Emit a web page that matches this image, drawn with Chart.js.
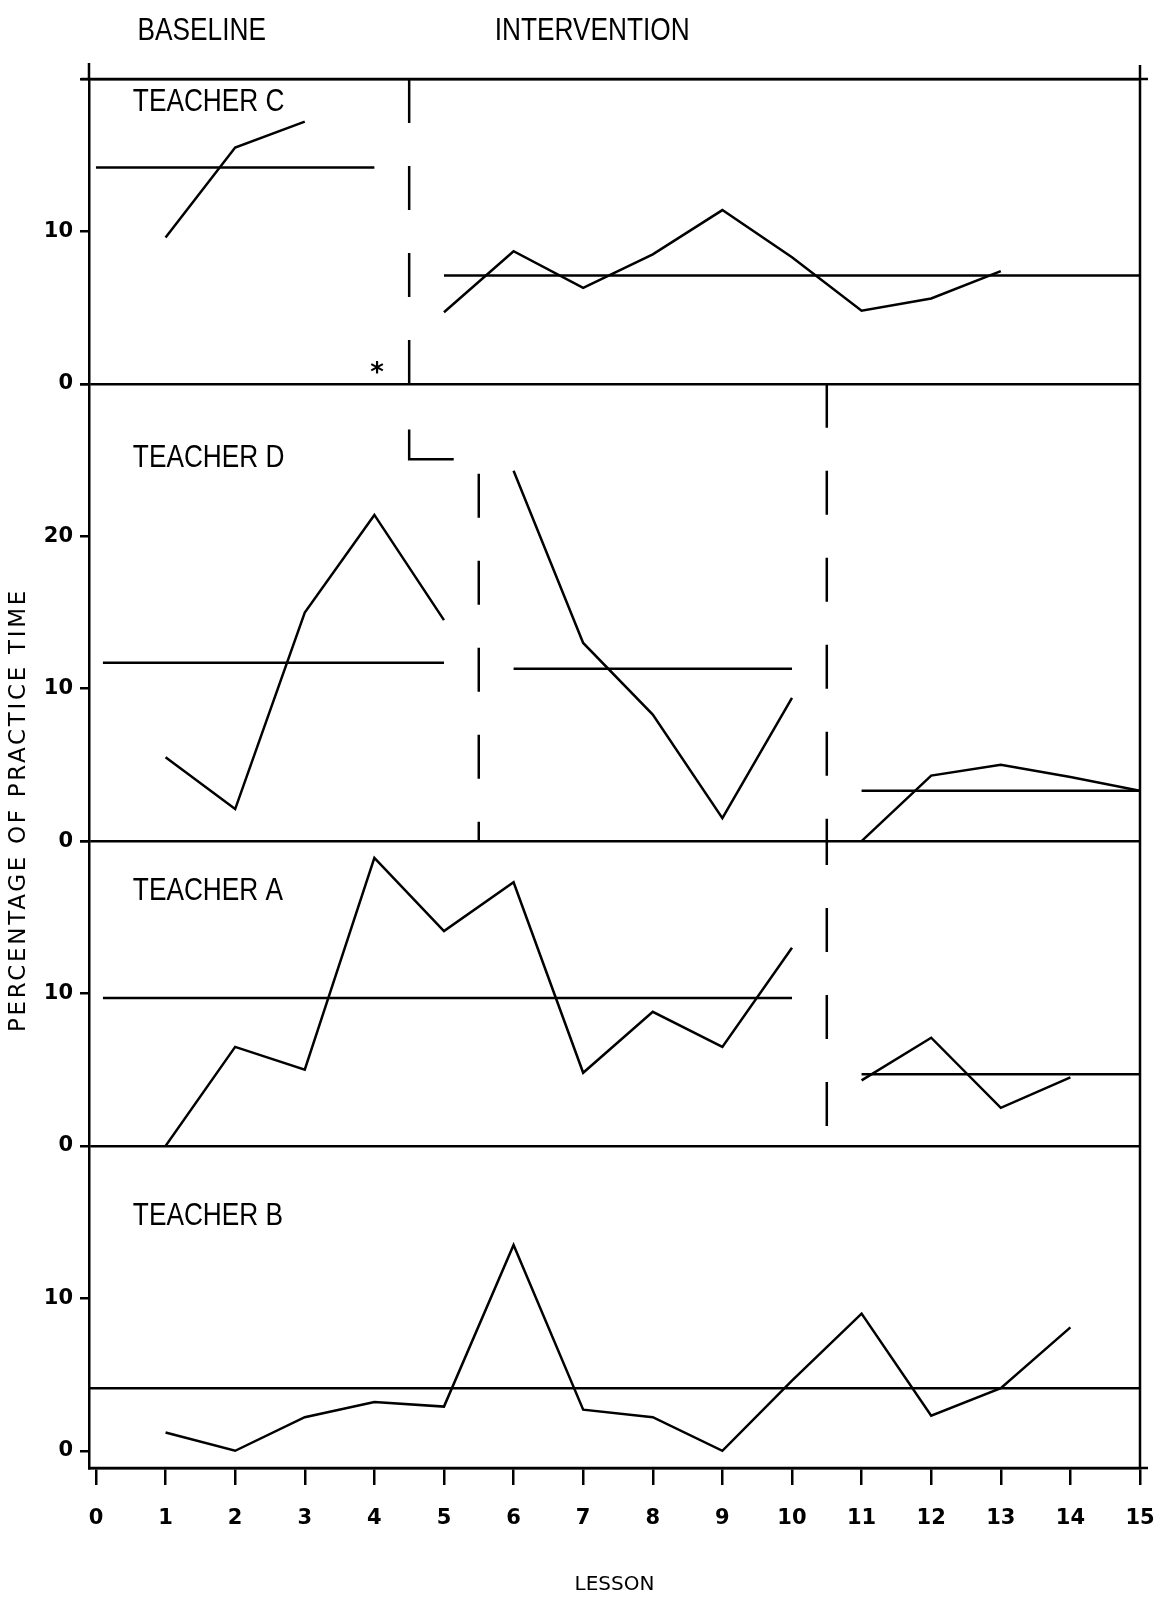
<!DOCTYPE html>
<html>
<head>
<meta charset="utf-8">
<script src="https://cdn.jsdelivr.net/npm/chart.js@4.4.1/dist/chart.umd.min.js"></script>
<style>
  html, body { margin: 0; padding: 0; background: #fff; }
  #wrap { position: relative; width: 1162px; height: 1597px; }
</style>
</head>
<body>
<div id="wrap"><canvas id="chart" width="1162" height="1597"></canvas></div>
<script>
// lessons on the x axis
const lessonTicks = [0, 1, 2, 3, 4, 5, 6, 7, 8, 9, 10, 11, 12, 13, 14, 15];

// Teacher C (top panel)
const cBaseLessons = [1, 2, 3];
const cBaseValues = [9.6, 15.5, 17.2];
const cIntLessons = [5, 6, 7, 8, 9, 10, 11, 12, 13];
const cIntValues = [4.7, 8.7, 6.3, 8.5, 11.4, 8.3, 4.8, 5.6, 7.4];
const cMeans = [14.2, 7.1];
const cMeanSpans = [[0, 4], [5, 15]];

// Teacher D
const dBaseLessons = [1, 2, 3, 4, 5];
const dBaseValues = [5.5, 2.1, 15.0, 21.4, 14.5];
const dInt1Lessons = [6, 7, 8, 9, 10];
const dInt1Values = [24.3, 13.0, 8.3, 1.5, 9.4];
const dInt2Lessons = [11, 12, 13, 14, 15];
const dInt2Values = [0, 4.3, 5.0, 4.2, 3.3];
const dMeans = [11.7, 11.3, 3.3];
const dMeanSpans = [[0.1, 5], [6, 10], [11, 15]];

// Teacher A
const aBaseLessons = [1, 2, 3, 4, 5, 6, 7, 8, 9, 10];
const aBaseValues = [0, 6.5, 5.0, 18.9, 14.1, 17.3, 4.8, 8.8, 6.5, 13.0];
const aIntLessons = [11, 12, 13, 14];
const aIntValues = [4.3, 7.1, 2.5, 4.5];
const aMeans = [9.7, 4.7];
const aMeanSpans = [[0.1, 10], [11, 15]];

// Teacher B (never reached intervention)
const bLessons = [1, 2, 3, 4, 5, 6, 7, 8, 9, 10, 11, 12, 13, 14];
const bValues = [1.2, 0, 2.2, 3.2, 2.9, 13.5, 2.7, 2.2, 0, 4.6, 9.0, 2.3, 4.1, 8.1];
const bMeans = [4.1];
const bMeanSpans = [[-0.1, 15]];

// panel axes, top to bottom: ranges and labelled ticks
const panelIds = ['yC', 'yD', 'yA', 'yB'];
const panelMin = [0, 0, 0, -1.13];
const panelMax = [20, 30, 20, 20];
const panelTicks = [[0, 10, 20], [0, 10, 20, 30], [0, 10, 20], [0, 10]];
const panelLabelled = [[0, 10], [0, 10, 20], [0, 10], [0, 10]];
const panelRules = [[0, 20], [0], [0], []];
const teacherNames = ['TEACHER C', 'TEACHER D', 'TEACHER A', 'TEACHER B'];
const teacherNameY = [18.5, 25.1, 16.7, 15.4];
const phaseTitles = ['BASELINE', 'INTERVENTION'];
const phaseTitleX = [1.52, 7.13];

// phase change lines per panel
const phaseLines = [
  { axis: 'yC', x: 4.5, from: 20, to: 0, offset: 0 },
  { axis: 'yD', x: 5.5, from: 24.1, to: 0, offset: 0 },
  { axis: 'yD', x: 10.5, from: 30, to: 0, offset: 0 },
  { axis: 'yA', x: 10.5, from: 20, to: 0.9, offset: 20 }
];

const pts = (xs, ys) => xs.map((x, i) => ({ x: x, y: ys[i] }));
const meanPts = (span, v) => [{ x: span[0], y: v }, { x: span[1], y: v }];

const lineStyle = { borderColor: '#000', borderWidth: 2.5, pointRadius: 0, tension: 0, fill: false };
const datasets = [];
function addLine(axis, data, extra) {
  datasets.push(Object.assign({ yAxisID: axis, xAxisID: 'x', data: data }, lineStyle, extra || {}));
}

addLine('yC', pts(cBaseLessons, cBaseValues));
addLine('yC', pts(cIntLessons, cIntValues));
cMeans.forEach((m, i) => addLine('yC', meanPts(cMeanSpans[i], m)));

addLine('yD', pts(dBaseLessons, dBaseValues));
addLine('yD', pts(dInt1Lessons, dInt1Values));
addLine('yD', pts(dInt2Lessons, dInt2Values));
dMeans.forEach((m, i) => addLine('yD', meanPts(dMeanSpans[i], m)));
// the small step of the phase line between C and D
addLine('yD', [{ x: 4.5, y: 27.0 }, { x: 4.5, y: 25.05 }, { x: 5.14, y: 25.05 }]);

addLine('yA', pts(aBaseLessons, aBaseValues));
addLine('yA', pts(aIntLessons, aIntValues));
aMeans.forEach((m, i) => addLine('yA', meanPts(aMeanSpans[i], m)));

addLine('yB', pts(bLessons, bValues));
bMeans.forEach((m, i) => addLine('yB', meanPts(bMeanSpans[i], m)));

phaseLines.forEach(p => addLine(p.axis, [{ x: p.x, y: p.from }, { x: p.x, y: p.to }],
  { borderDash: [44, 43], borderDashOffset: p.offset, borderWidth: 2.5 }));

const tickFont = { family: 'DejaVu Sans', size: 21, weight: 'bold' };

const scales = {
  x: {
    type: 'linear',
    position: 'bottom',
    min: -0.1,
    max: 15,
    afterBuildTicks: axis => { axis.ticks = lessonTicks.map(v => ({ value: v })); },
    afterFit: axis => { axis.height = 129; axis.paddingLeft = 0; axis.paddingRight = 0; },
    ticks: { color: '#000', font: tickFont, padding: 21, maxRotation: 0, autoSkip: false },
    grid: { drawOnChartArea: false, color: '#000', tickLength: 17, lineWidth: 2.5 },
    border: { color: '#000', width: 2.5 },
    title: { display: true, text: 'LESSON', color: '#000', font: { family: 'DejaVu Sans', size: 20 }, padding: { top: 0, bottom: 0 } }
  }
};

// left axes at one stack are laid out last-first, so add the bottom panel first
panelIds.slice().reverse().forEach(id => {
  const i = panelIds.indexOf(id);
  scales[id] = {
    type: 'linear',
    position: 'left',
    stack: 'panels',
    stackWeight: panelMax[i] - panelMin[i],
    min: panelMin[i],
    max: panelMax[i],
    afterBuildTicks: axis => { axis.ticks = panelTicks[i].map(v => ({ value: v })); },
    afterFit: axis => { axis.width = 89; },
    ticks: {
      color: '#000', font: tickFont, padding: 7,
      callback: v => panelLabelled[i].includes(v) ? String(v) : ''
    },
    grid: {
      drawOnChartArea: true,
      lineWidth: 2.5,
      tickLength: 9,
      tickColor: '#000',
      tickWidth: 2.5,
      color: ctx => (ctx.tick && panelRules[i].includes(ctx.tick.value)) ? '#000' : 'rgba(0,0,0,0)'
    },
    border: { color: '#000', width: 2.5 }
  };
});

function drawNarrow(ctx, text, x, y, align, sx) {
  ctx.save();
  ctx.translate(x, y);
  ctx.scale(sx, 1);
  ctx.textAlign = align;
  ctx.fillText(text, 0, 0);
  ctx.restore();
}

const annotations = {
  id: 'annotations',
  afterDraw(chart) {
    const { ctx, chartArea, scales } = chart;
    const sx = scales.x;
    ctx.save();
    ctx.fillStyle = '#000';
    ctx.strokeStyle = '#000';
    ctx.lineWidth = 2.5;

    // frame extensions: left/right uprights and rule overhangs
    ctx.beginPath();
    ctx.moveTo(chartArea.left, chartArea.top - 16);
    ctx.lineTo(chartArea.left, chartArea.top);
    ctx.moveTo(chartArea.right, chartArea.top - 14);
    ctx.lineTo(chartArea.right, chartArea.bottom);
    ctx.moveTo(chartArea.left - 8, chartArea.top);
    ctx.lineTo(chartArea.right + 8, chartArea.top);
    ctx.moveTo(chartArea.left, chartArea.bottom);
    ctx.lineTo(chartArea.right + 8, chartArea.bottom);
    ctx.stroke();

    ctx.textBaseline = 'middle';
    ctx.font = '32px "Liberation Sans"';
    phaseTitles.forEach((t, i) => drawNarrow(ctx, t, sx.getPixelForValue(phaseTitleX[i]), 31, 'center', 0.82));
    teacherNames.forEach((t, i) =>
      drawNarrow(ctx, t, sx.getPixelForValue(0.53), scales[panelIds[i]].getPixelForValue(teacherNameY[i]), 'left', 0.82));

    // asterisk next to the first phase line
    ctx.font = 'bold 26px "DejaVu Sans"';
    ctx.textAlign = 'center';
    ctx.fillText('*', sx.getPixelForValue(4.04), scales.yC.getPixelForValue(0.6));

    // y axis title
    ctx.save();
    ctx.translate(19, 810);
    ctx.rotate(-Math.PI / 2);
    ctx.font = '23px "DejaVu Sans"';
    ctx.letterSpacing = '2.7px';
    ctx.textAlign = 'center';
    ctx.fillText('PERCENTAGE OF PRACTICE TIME', 0, 0);
    ctx.restore();
    ctx.restore();
  }
};

new Chart(document.getElementById('chart'), {
  type: 'line',
  data: { datasets: datasets },
  options: {
    responsive: false,
    devicePixelRatio: 1,
    animation: false,
    layout: { padding: { top: 79, right: 22, bottom: 0, left: 0 } },
    plugins: { legend: { display: false }, tooltip: { enabled: false } },
    scales: scales
  },
  plugins: [annotations]
});
</script>
</body>
</html>
